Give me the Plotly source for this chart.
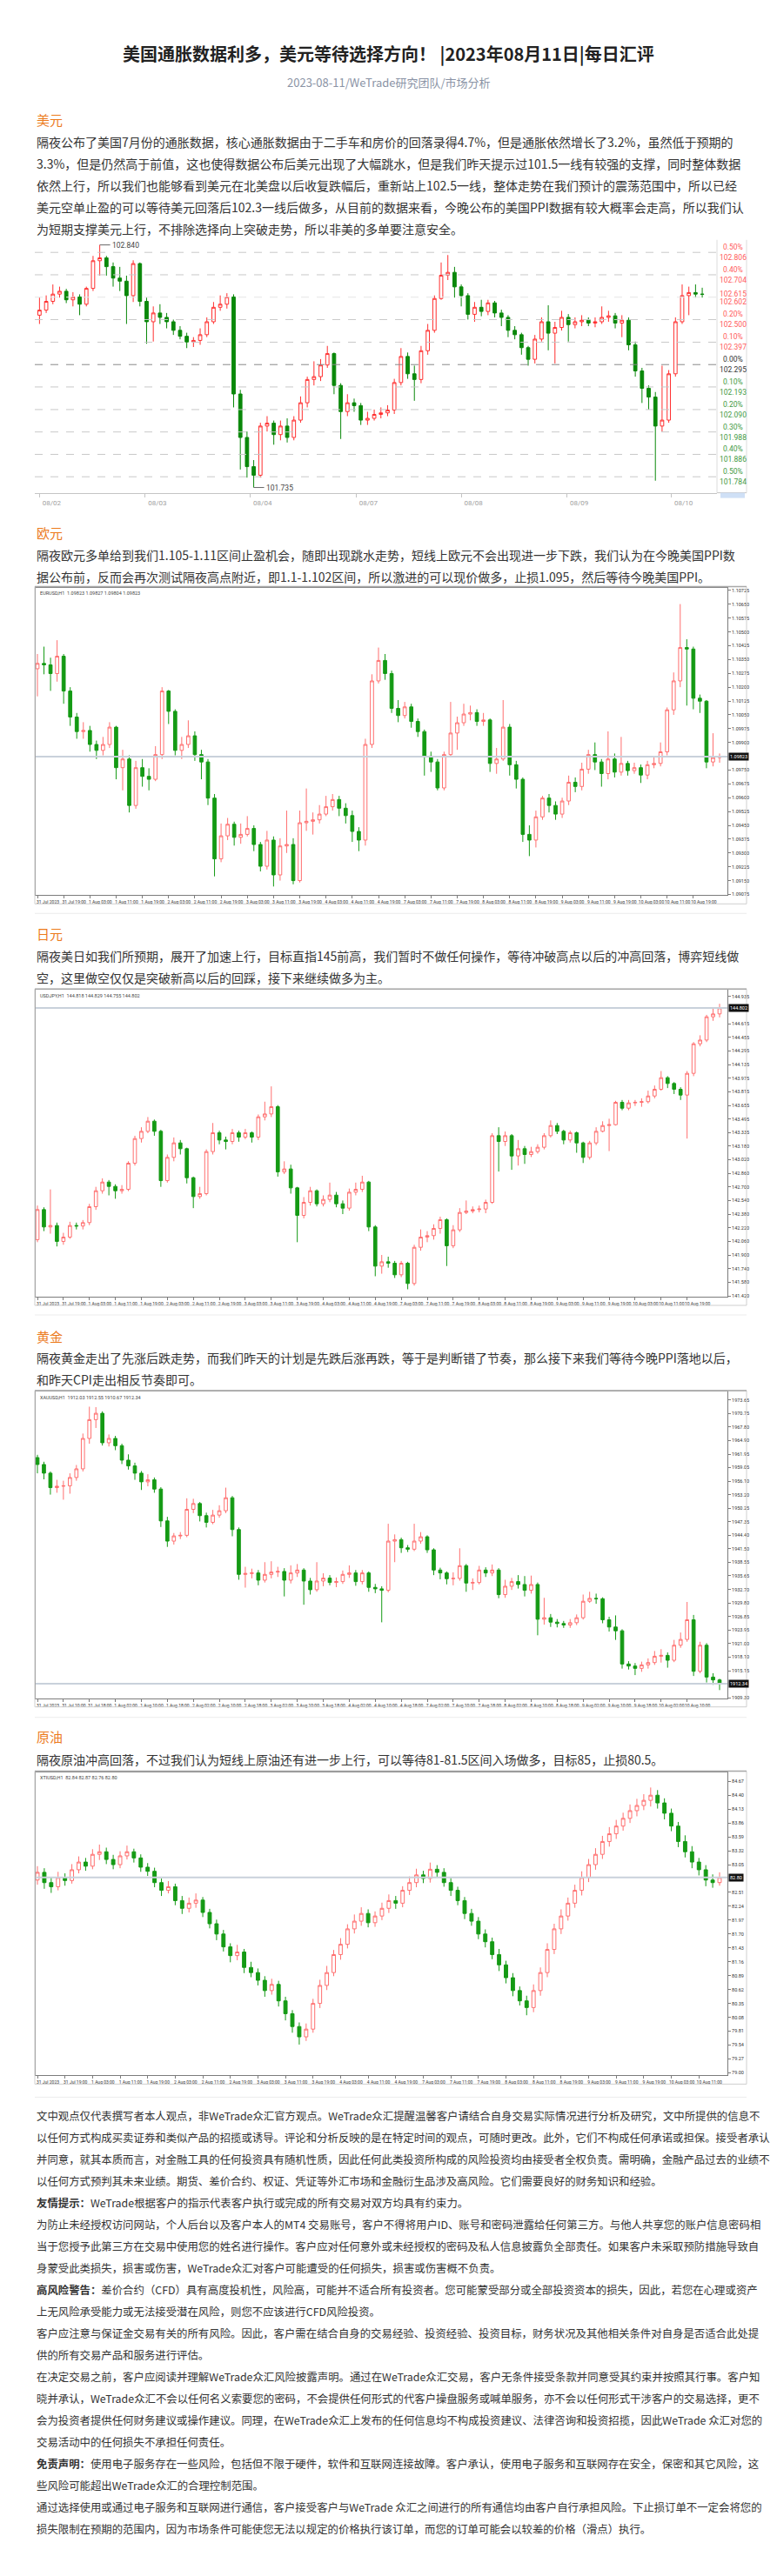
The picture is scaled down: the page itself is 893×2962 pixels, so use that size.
import plotly.graph_objects as go

W, H = 893, 2962
CJK = "Noto Sans CJK SC"
NUM = "Roboto"

# ------------------------------------------------------------------ text
TITLE = "美国通胀数据利多，美元等待选择方向！ |2023年08月11日|每日汇评"
SUBTITLE = "2023-08-11/WeTrade研究团队/市场分析"

USD_HEAD = "美元"
USD_TEXT = [
    "隔夜公布了美国7月份的通胀数据，核心通胀数据由于二手车和房价的回落录得4.7%，但是通胀依然增长了3.2%，虽然低于预期的",
    "3.3%，但是仍然高于前值，这也使得数据公布后美元出现了大幅跳水，但是我们昨天提示过101.5一线有较强的支撑，同时整体数据",
    "依然上行，所以我们也能够看到美元在北美盘以后收复跌幅后，重新站上102.5一线，整体走势在我们预计的震荡范围中，所以已经",
    "美元空单止盈的可以等待美元回落后102.3一线后做多，从目前的数据来看，今晚公布的美国PPI数据有较大概率会走高，所以我们认",
    "为短期支撑美元上行，不排除选择向上突破走势，所以非美的多单要注意安全。",
]
EUR_HEAD = "欧元"
EUR_TEXT = [
    "隔夜欧元多单给到我们1.105-1.11区间止盈机会，随即出现跳水走势，短线上欧元不会出现进一步下跌，我们认为在今晚美国PPI数",
    "据公布前，反而会再次测试隔夜高点附近，即1.1-1.102区间，所以激进的可以现价做多，止损1.095，然后等待今晚美国PPI。",
]
JPY_HEAD = "日元"
JPY_TEXT = [
    "隔夜美日如我们所预期，展开了加速上行，目标直指145前高，我们暂时不做任何操作，等待冲破高点以后的冲高回落，博弈短线做",
    "空，这里做空仅仅是突破新高以后的回踩，接下来继续做多为主。",
]
GOLD_HEAD = "黄金"
GOLD_TEXT = [
    "隔夜黄金走出了先涨后跌走势，而我们昨天的计划是先跌后涨再跌，等于是判断错了节奏，那么接下来我们等待今晚PPI落地以后，",
    "和昨天CPI走出相反节奏即可。",
]
OIL_HEAD = "原油"
OIL_TEXT = [
    "隔夜原油冲高回落，不过我们认为短线上原油还有进一步上行，可以等待81-81.5区间入场做多，目标85，止损80.5。",
]
DISCLAIMER = [
    "文中观点仅代表撰写者本人观点，非WeTrade众汇官方观点。WeTrade众汇提醒温馨客户请结合自身交易实际情况进行分析及研究，文中所提供的信息不",
    "以任何方式构成买卖证券和类似产品的招揽或诱导。评论和分析反映的是在特定时间的观点，可随时更改。此外，它们不构成任何承诺或担保。接受者承认",
    "并同意，就其本质而言，对金融工具的任何投资具有随机性质，因此任何此类投资所构成的风险投资均由接受者全权负责。需明确，金融产品过去的业绩不",
    "以任何方式预判其未来业绩。期货、差价合约、权证、凭证等外汇市场和金融衍生品涉及高风险。它们需要良好的财务知识和经验。",
    "<b>友情提示：</b>WeTrade根据客户的指示代表客户执行或完成的所有交易对双方均具有约束力。",
    "为防止未经授权访问网站，个人后台以及客户本人的MT4 交易账号，客户不得将用户ID、账号和密码泄露给任何第三方。与他人共享您的账户信息密码相",
    "当于您授予此第三方在交易中使用您的姓名进行操作。客户应对任何意外或未经授权的密码及私人信息披露负全部责任。如果客户未采取预防措施导致自",
    "身蒙受此类损失，损害或伤害，WeTrade众汇对客户可能遭受的任何损失，损害或伤害概不负责。",
    "<b>高风险警告：</b>差价合约（CFD）具有高度投机性，风险高，可能并不适合所有投资者。您可能蒙受部分或全部投资资本的损失，因此，若您在心理或资产",
    "上无风险承受能力或无法接受潜在风险，则您不应该进行CFD风险投资。",
    "客户应注意与保证金交易有关的所有风险。因此，客户需在结合自身的交易经验、投资经验、投资目标，财务状况及其他相关条件对自身是否适合此处提",
    "供的所有交易产品和服务进行评估。",
    "在决定交易之前，客户应阅读并理解WeTrade众汇风险披露声明。通过在WeTrade众汇交易，客户无条件接受条款并同意受其约束并按照其行事。客户知",
    "晓并承认，WeTrade众汇不会以任何名义索要您的密码，不会提供任何形式的代客户操盘服务或喊单服务，亦不会以任何形式干涉客户的交易选择，更不",
    "会为投资者提供任何财务建议或操作建议。同理，在WeTrade众汇上发布的任何信息均不构成投资建议、法律咨询和投资招揽，因此WeTrade 众汇对您的",
    "交易活动中的任何损失不承担任何责任。",
    "<b>免责声明：</b>使用电子服务存在一些风险，包括但不限于硬件，软件和互联网连接故障。客户承认，使用电子服务和互联网存在安全，保密和其它风险，这",
    "些风险可能超出WeTrade众汇的合理控制范围。",
    "通过选择使用或通过电子服务和互联网进行通信，客户接受客户与WeTrade 众汇之间进行的所有通信均由客户自行承担风险。下止损订单不一定会将您的",
    "损失限制在预期的范围内，因为市场条件可能使您无法以规定的价格执行该订单，而您的订单可能会以较差的价格（滑点）执行。",
]

# ------------------------------------------------------------------ USD index chart
USD_open = [102.520, 102.543, 102.583, 102.616, 102.629, 102.590, 102.603, 102.570, 102.642, 102.768,
            102.781, 102.741, 102.689, 102.675, 102.609, 102.755, 102.583, 102.490, 102.530, 102.510,
            102.490, 102.451, 102.424, 102.398, 102.405, 102.431, 102.490, 102.556, 102.570, 102.603,
            102.161, 101.963, 101.830, 101.791, 102.015, 102.028, 101.976, 102.015, 101.963, 102.042,
            102.121, 102.227, 102.240, 102.293, 102.345, 102.200, 102.081, 102.121, 102.108, 102.042,
            102.050, 102.068, 102.075, 102.088, 102.213, 102.332, 102.253, 102.227, 102.358, 102.451,
            102.596, 102.702, 102.715, 102.649, 102.609, 102.524, 102.556, 102.537, 102.576, 102.530,
            102.510, 102.451, 102.431, 102.372, 102.319, 102.411, 102.490, 102.438, 102.464, 102.510,
            102.477, 102.490, 102.497, 102.484, 102.490, 102.510, 102.517, 102.484, 102.497, 102.385,
            102.266, 102.187, 102.147, 102.015, 102.042, 102.253, 102.490, 102.609, 102.623, 102.616]
USD_high = [102.600, 102.610, 102.660, 102.650, 102.640, 102.625, 102.615, 102.650, 102.790, 102.840,
            102.790, 102.760, 102.740, 102.700, 102.770, 102.760, 102.600, 102.560, 102.570, 102.530,
            102.500, 102.470, 102.440, 102.420, 102.460, 102.510, 102.580, 102.610, 102.620, 102.615,
            102.180, 101.990, 101.860, 102.030, 102.060, 102.040, 102.040, 102.050, 102.060, 102.150,
            102.240, 102.310, 102.320, 102.380, 102.350, 102.210, 102.160, 102.140, 102.120, 102.080,
            102.090, 102.100, 102.110, 102.230, 102.370, 102.350, 102.290, 102.380, 102.480, 102.610,
            102.760, 102.794, 102.740, 102.660, 102.620, 102.580, 102.590, 102.590, 102.585, 102.545,
            102.520, 102.470, 102.440, 102.380, 102.430, 102.510, 102.565, 102.490, 102.540, 102.525,
            102.510, 102.520, 102.510, 102.510, 102.560, 102.540, 102.530, 102.520, 102.510, 102.400,
            102.280, 102.200, 102.170, 102.290, 102.270, 102.510, 102.660, 102.650, 102.660, 102.645]
USD_low = [102.480, 102.530, 102.570, 102.600, 102.575, 102.560, 102.520, 102.560, 102.630, 102.700,
           102.700, 102.650, 102.630, 102.480, 102.580, 102.560, 102.390, 102.400, 102.480, 102.460,
           102.430, 102.410, 102.370, 102.375, 102.385, 102.420, 102.480, 102.540, 102.550, 102.100,
           101.817, 101.780, 101.735, 101.780, 101.990, 101.930, 101.950, 101.940, 101.950, 102.030,
           102.100, 102.200, 102.220, 102.280, 102.160, 101.956, 102.060, 102.080, 102.020, 102.020,
           102.040, 102.050, 102.060, 102.070, 102.200, 102.230, 102.130, 102.210, 102.340, 102.440,
           102.590, 102.680, 102.600, 102.560, 102.500, 102.490, 102.515, 102.520, 102.510, 102.470,
           102.420, 102.410, 102.340, 102.290, 102.300, 102.400, 102.360, 102.300, 102.450, 102.400,
           102.460, 102.470, 102.470, 102.465, 102.480, 102.490, 102.460, 102.420, 102.360, 102.240,
           102.120, 102.090, 101.766, 101.990, 102.030, 102.240, 102.480, 102.520, 102.600, 102.600]
USD_close = [102.543, 102.583, 102.616, 102.629, 102.590, 102.603, 102.570, 102.642, 102.768, 102.781,
             102.741, 102.689, 102.675, 102.609, 102.755, 102.583, 102.490, 102.530, 102.510, 102.490,
             102.451, 102.424, 102.398, 102.405, 102.431, 102.490, 102.556, 102.570, 102.603, 102.161,
             101.963, 101.830, 101.791, 102.015, 102.028, 101.976, 102.015, 101.963, 102.042, 102.121,
             102.227, 102.240, 102.293, 102.345, 102.200, 102.081, 102.121, 102.108, 102.042, 102.050,
             102.068, 102.075, 102.088, 102.213, 102.332, 102.253, 102.227, 102.358, 102.451, 102.596,
             102.702, 102.715, 102.649, 102.609, 102.524, 102.556, 102.537, 102.576, 102.530, 102.510,
             102.451, 102.431, 102.372, 102.319, 102.411, 102.490, 102.438, 102.464, 102.510, 102.477,
             102.490, 102.497, 102.484, 102.490, 102.510, 102.517, 102.484, 102.497, 102.385, 102.266,
             102.187, 102.147, 102.015, 102.042, 102.253, 102.490, 102.609, 102.623, 102.616, 102.615]
USD_levels = [102.806, 102.704, 102.500, 102.397, 102.295, 102.193, 102.090, 101.988, 101.886, 101.784]
USD_level_pct = ["0.50%", "0.40%", "0.20%", "0.10%", "0.00%", "0.10%", "0.20%", "0.30%", "0.40%", "0.50%"]
USD_base = 102.295
USD_plus30 = 102.602
USD_last = 102.615
USD_max_idx, USD_max = 9, 102.840
USD_min_idx, USD_min = 32, 101.735
USD_tick_pos = [0, 15.8, 31.5, 47.3, 63, 78.8, 94.4]
USD_tick_text = ["08/02", "08/03", "08/04", "08/07", "08/08", "08/09", "08/10"]

# ------------------------------------------------------------------ EURUSD H1
EUR_open = [1.10300, 1.10329, 1.10321, 1.10274, 1.10368, 1.10179, 1.10038, 1.09959, 1.09965, 1.09889,
            1.09857, 1.09889, 1.09983, 1.09763, 1.09810, 1.09558, 1.09763, 1.09716, 1.09700, 1.09834,
            1.10179, 1.10069, 1.09857, 1.09889, 1.09936, 1.09834, 1.09794, 1.09598, 1.09268, 1.09393,
            1.09456, 1.09385, 1.09401, 1.09433, 1.09346, 1.09228, 1.09370, 1.09181, 1.09338, 1.09346,
            1.09150, 1.09464, 1.09472, 1.09480, 1.09511, 1.09551, 1.09590, 1.09543, 1.09503, 1.09417,
            1.09370, 1.09889, 1.10234, 1.10345, 1.10274, 1.10085, 1.10046, 1.10093, 1.10014, 1.09959,
            1.09826, 1.09794, 1.09653, 1.09834, 1.09951, 1.10007, 1.10054, 1.10062, 1.10014, 1.10022,
            1.09786, 1.09810, 1.09983, 1.09779, 1.09700, 1.09401, 1.09370, 1.09496, 1.09598, 1.09558,
            1.09511, 1.09582, 1.09684, 1.09661, 1.09755, 1.09834, 1.09794, 1.09731, 1.09810, 1.09739,
            1.09786, 1.09747, 1.09763, 1.09723, 1.09779, 1.09786, 1.09849, 1.10077, 1.10234, 1.10415,
            1.10407, 1.10140, 1.10124, 1.09794, 1.09818]
EUR_high = [1.10380, 1.10420, 1.10360, 1.10455, 1.10380, 1.10200, 1.10060, 1.10010, 1.09990, 1.09910,
            1.09930, 1.10010, 1.09990, 1.09860, 1.09830, 1.09800, 1.09810, 1.09760, 1.09880, 1.10200,
            1.10185, 1.10080, 1.09930, 1.10020, 1.09960, 1.09860, 1.09810, 1.09620, 1.09460, 1.09490,
            1.09470, 1.09460, 1.09500, 1.09450, 1.09360, 1.09420, 1.09390, 1.09380, 1.09530, 1.09380,
            1.09530, 1.09650, 1.09520, 1.09560, 1.09610, 1.09620, 1.09610, 1.09570, 1.09530, 1.09440,
            1.09920, 1.10270, 1.10415, 1.10380, 1.10290, 1.10130, 1.10120, 1.10110, 1.10030, 1.09970,
            1.09850, 1.09810, 1.09850, 1.10120, 1.10040, 1.10110, 1.10100, 1.10080, 1.10060, 1.10030,
            1.09870, 1.10130, 1.10000, 1.09800, 1.09710, 1.09450, 1.09530, 1.09610, 1.09620, 1.09580,
            1.09600, 1.09720, 1.09710, 1.09790, 1.09860, 1.09900, 1.09810, 1.09960, 1.09840, 1.09930,
            1.09800, 1.09790, 1.09780, 1.09800, 1.09820, 1.09900, 1.10090, 1.10280, 1.10651, 1.10460,
            1.10420, 1.10160, 1.10130, 1.09950, 1.09840]
EUR_low = [1.10150, 1.10270, 1.10180, 1.10230, 1.10110, 1.09990, 1.09920, 1.09920, 1.09850, 1.09810,
           1.09830, 1.09870, 1.09700, 1.09640, 1.09520, 1.09540, 1.09660, 1.09640, 1.09690, 1.09810,
           1.10000, 1.09830, 1.09810, 1.09870, 1.09800, 1.09700, 1.09560, 1.09173, 1.09250, 1.09370,
           1.09340, 1.09350, 1.09390, 1.09310, 1.09200, 1.09210, 1.09118, 1.09150, 1.09300, 1.09130,
           1.09140, 1.09420, 1.09400, 1.09460, 1.09500, 1.09530, 1.09500, 1.09460, 1.09360, 1.09310,
           1.09340, 1.09870, 1.10220, 1.10240, 1.10060, 1.10010, 1.10030, 1.09980, 1.09930, 1.09720,
           1.09740, 1.09640, 1.09640, 1.09820, 1.09860, 1.09990, 1.10020, 1.09990, 1.09990, 1.09740,
           1.09730, 1.09800, 1.09720, 1.09650, 1.09360, 1.09283, 1.09330, 1.09480, 1.09520, 1.09480,
           1.09490, 1.09560, 1.09630, 1.09640, 1.09730, 1.09750, 1.09660, 1.09700, 1.09710, 1.09720,
           1.09720, 1.09730, 1.09680, 1.09700, 1.09760, 1.09770, 1.09830, 1.10050, 1.10200, 1.10100,
           1.10080, 1.10060, 1.09760, 1.09770, 1.09790]
EUR_close = [1.10329, 1.10321, 1.10274, 1.10368, 1.10179, 1.10038, 1.09959, 1.09965, 1.09889, 1.09857,
             1.09889, 1.09983, 1.09763, 1.09810, 1.09558, 1.09763, 1.09716, 1.09700, 1.09834, 1.10179,
             1.10069, 1.09857, 1.09889, 1.09936, 1.09834, 1.09794, 1.09598, 1.09268, 1.09393, 1.09456,
             1.09385, 1.09401, 1.09433, 1.09346, 1.09228, 1.09370, 1.09181, 1.09338, 1.09346, 1.09150,
             1.09464, 1.09472, 1.09480, 1.09511, 1.09551, 1.09590, 1.09543, 1.09503, 1.09417, 1.09370,
             1.09889, 1.10234, 1.10345, 1.10274, 1.10085, 1.10046, 1.10093, 1.10014, 1.09959, 1.09826,
             1.09794, 1.09653, 1.09834, 1.09951, 1.10007, 1.10054, 1.10062, 1.10014, 1.10022, 1.09786,
             1.09810, 1.09983, 1.09779, 1.09700, 1.09401, 1.09370, 1.09496, 1.09598, 1.09558, 1.09511,
             1.09582, 1.09684, 1.09661, 1.09755, 1.09834, 1.09794, 1.09731, 1.09810, 1.09739, 1.09786,
             1.09747, 1.09763, 1.09723, 1.09779, 1.09786, 1.09849, 1.10077, 1.10234, 1.10415, 1.10407,
             1.10140, 1.10124, 1.09794, 1.09818, 1.09823]
EUR_ticks = [1.09075, 1.09150, 1.09225, 1.09300, 1.09375, 1.09450, 1.09525, 1.09600, 1.09675, 1.09750,
             1.09900, 1.09975, 1.10050, 1.10125, 1.10200, 1.10275, 1.10350, 1.10425, 1.10500,
             1.10575, 1.10650, 1.10725]
EUR_range = [1.09071, 1.10741]
EUR_last = 1.09823
EUR_info = "EURUSD,H1  1.09823 1.09827 1.09804 1.09823"

# ------------------------------------------------------------------ USDJPY H1
JPY_open = [142.080, 142.433, 142.229, 142.246, 142.059, 142.110, 142.246, 142.240, 142.280, 142.467,
            142.654, 142.756, 142.705, 142.654, 142.671, 142.978, 143.267, 143.352, 143.471, 143.352,
            142.773, 143.046, 143.216, 143.148, 142.807, 142.586, 142.620, 143.114, 143.335, 143.250,
            143.233, 143.335, 143.284, 143.335, 143.284, 143.522, 143.556, 143.641, 142.876, 142.910,
            142.688, 142.365, 142.518, 142.654, 142.501, 142.552, 142.603, 142.501, 142.450, 142.637,
            142.671, 142.756, 142.229, 141.769, 141.820, 141.803, 141.667, 141.803, 141.565, 141.990,
            142.110, 142.127, 142.212, 142.314, 142.008, 142.195, 142.399, 142.416, 142.433, 142.440,
            142.518, 143.301, 143.233, 143.301, 143.063, 143.148, 143.080, 143.114, 143.165, 143.301,
            143.420, 143.352, 143.250, 143.335, 143.216, 143.046, 143.216, 143.352, 143.420, 143.430,
            143.693, 143.624, 143.686, 143.693, 143.700, 143.767, 143.846, 143.982, 143.914, 143.846,
            143.778, 144.033, 144.380, 144.424, 144.697, 144.731]
JPY_high = [142.480, 142.460, 142.670, 142.280, 142.160, 142.290, 142.280, 142.310, 142.500, 142.700,
            142.800, 142.780, 142.730, 142.720, 143.000, 143.300, 143.400, 143.520, 143.490, 143.370,
            143.080, 143.280, 143.250, 143.160, 142.820, 142.700, 143.140, 143.450, 143.360, 143.290,
            143.380, 143.360, 143.380, 143.350, 143.550, 143.700, 143.880, 143.660, 143.000, 142.960,
            142.700, 142.580, 142.700, 142.670, 142.600, 142.750, 142.640, 142.540, 142.680, 142.750,
            142.830, 142.770, 142.250, 141.900, 141.880, 141.830, 141.830, 141.820, 142.020, 142.200,
            142.180, 142.260, 142.350, 142.330, 142.250, 142.450, 142.540, 142.470, 142.480, 142.550,
            143.330, 143.400, 143.350, 143.320, 143.250, 143.180, 143.170, 143.200, 143.330, 143.480,
            143.450, 143.370, 143.360, 143.350, 143.230, 143.240, 143.400, 143.470, 143.500, 143.710,
            143.720, 143.720, 143.720, 143.740, 143.830, 143.890, 144.060, 144.000, 143.930, 143.870,
            144.060, 144.400, 144.480, 144.720, 144.800, 144.850]
JPY_low = [142.050, 142.180, 142.150, 142.000, 142.020, 142.090, 142.200, 142.200, 142.250, 142.430,
           142.620, 142.600, 142.560, 142.620, 142.650, 142.950, 143.220, 143.330, 143.300, 142.700,
           142.750, 143.000, 143.080, 142.740, 142.450, 142.560, 142.600, 143.080, 143.200, 143.140,
           143.200, 143.230, 143.260, 143.220, 143.250, 143.480, 143.520, 142.820, 142.850, 142.620,
           142.050, 142.330, 142.480, 142.470, 142.470, 142.520, 142.460, 142.380, 142.420, 142.600,
           142.640, 142.180, 141.650, 141.680, 141.750, 141.630, 141.640, 141.497, 141.540, 141.950,
           142.050, 142.080, 142.150, 141.770, 141.980, 142.170, 142.380, 142.390, 142.400, 142.390,
           142.500, 142.880, 143.180, 142.900, 142.950, 142.970, 143.050, 143.090, 143.140, 143.280,
           143.320, 143.200, 143.220, 143.100, 142.980, 143.020, 143.190, 143.340, 143.120, 143.420,
           143.600, 143.600, 143.650, 143.640, 143.680, 143.740, 143.830, 143.860, 143.790, 143.720,
           143.267, 144.000, 144.350, 144.400, 144.650, 144.690]
JPY_close = [142.433, 142.229, 142.246, 142.059, 142.110, 142.246, 142.240, 142.280, 142.467, 142.654,
             142.756, 142.705, 142.654, 142.671, 142.978, 143.267, 143.352, 143.471, 143.352, 142.773,
             143.046, 143.216, 143.148, 142.807, 142.586, 142.620, 143.114, 143.335, 143.250, 143.233,
             143.335, 143.284, 143.335, 143.284, 143.522, 143.556, 143.641, 142.876, 142.910, 142.688,
             142.365, 142.518, 142.654, 142.501, 142.552, 142.603, 142.501, 142.450, 142.637, 142.671,
             142.756, 142.229, 141.769, 141.820, 141.803, 141.667, 141.803, 141.565, 141.990, 142.110,
             142.127, 142.212, 142.314, 142.008, 142.195, 142.399, 142.416, 142.433, 142.440, 142.518,
             143.301, 143.233, 143.301, 143.063, 143.148, 143.080, 143.114, 143.165, 143.301, 143.420,
             143.352, 143.250, 143.335, 143.216, 143.046, 143.216, 143.352, 143.420, 143.430, 143.693,
             143.624, 143.686, 143.693, 143.700, 143.767, 143.846, 143.982, 143.914, 143.846, 143.778,
             144.033, 144.380, 144.424, 144.697, 144.731, 144.802]
JPY_ticks = [141.420, 141.580, 141.740, 141.900, 142.060, 142.220, 142.380, 142.540, 142.700, 142.860,
             143.020, 143.180, 143.335, 143.495, 143.655, 143.815, 143.975, 144.135, 144.295, 144.455,
             144.615, 144.935]
JPY_range = [141.41, 145.013]
JPY_last = 144.802
JPY_info = "USDJPY,H1  144.818 144.829 144.755 144.802"

# ------------------------------------------------------------------ XAUUSD H1
GOLD_open = [1961.20, 1959.71, 1957.84, 1954.71, 1955.02, 1955.10, 1956.90, 1958.77, 1965.34, 1969.40,
             1970.77, 1964.40, 1965.34, 1963.77, 1960.65, 1959.40, 1957.84, 1955.96, 1956.40, 1954.40,
             1947.52, 1943.15, 1944.27, 1944.40, 1950.02, 1951.27, 1948.65, 1947.21, 1948.77, 1949.71,
             1952.52, 1945.65, 1935.96, 1936.15, 1936.27, 1934.71, 1935.96, 1936.46, 1936.59, 1934.71,
             1936.27, 1936.90, 1934.52, 1932.65, 1934.52, 1935.15, 1934.21, 1934.40, 1935.96, 1936.27,
             1934.40, 1936.27, 1933.15, 1932.84, 1932.52, 1943.15, 1943.46, 1941.71, 1941.40, 1943.15,
             1944.09, 1941.27, 1936.90, 1936.27, 1935.02, 1935.10, 1937.84, 1934.09, 1934.20, 1936.90,
             1936.27, 1936.90, 1931.59, 1933.40, 1934.40, 1933.77, 1932.52, 1933.77, 1926.27, 1926.59,
             1925.65, 1925.34, 1925.02, 1925.52, 1926.59, 1930.15, 1930.77, 1930.70, 1926.15, 1924.59,
             1923.77, 1916.59, 1916.15, 1915.65, 1916.40, 1916.90, 1918.27, 1918.46, 1917.40, 1920.65,
             1921.90, 1926.15, 1915.02, 1920.65, 1913.77, 1913.15]
GOLD_high = [1961.80, 1960.30, 1958.20, 1956.40, 1956.20, 1957.80, 1959.60, 1966.40, 1972.20, 1972.10,
             1971.20, 1966.20, 1965.90, 1964.20, 1961.90, 1960.10, 1958.30, 1957.60, 1956.90, 1954.80,
             1948.40, 1944.90, 1945.10, 1952.40, 1952.30, 1951.60, 1949.30, 1949.90, 1950.90, 1954.70,
             1952.90, 1946.10, 1937.60, 1937.20, 1936.90, 1938.60, 1938.80, 1937.60, 1937.30, 1937.90,
             1938.20, 1937.30, 1935.20, 1938.60, 1936.20, 1935.80, 1935.30, 1936.80, 1937.90, 1936.90,
             1936.90, 1936.60, 1933.90, 1933.40, 1946.90, 1944.60, 1943.90, 1942.30, 1946.90, 1945.10,
             1944.40, 1941.60, 1937.40, 1936.60, 1936.40, 1941.60, 1938.20, 1935.10, 1937.80, 1937.50,
             1938.10, 1937.30, 1934.80, 1935.20, 1935.80, 1935.60, 1935.70, 1934.20, 1930.90, 1927.40,
             1926.30, 1925.90, 1926.30, 1927.30, 1931.60, 1932.20, 1931.80, 1931.00, 1926.80, 1927.10,
             1924.10, 1917.20, 1916.80, 1917.10, 1917.80, 1919.40, 1919.80, 1919.10, 1921.80, 1923.40,
             1930.00, 1927.20, 1921.40, 1921.10, 1914.60, 1913.40]
GOLD_low = [1957.80, 1956.50, 1953.20, 1953.60, 1952.10, 1953.40, 1956.20, 1958.20, 1964.20, 1967.60,
            1963.80, 1963.60, 1962.80, 1959.80, 1958.60, 1956.40, 1954.20, 1955.00, 1953.60, 1946.20,
            1941.90, 1942.40, 1943.60, 1944.00, 1949.20, 1947.40, 1946.10, 1946.80, 1948.20, 1949.20,
            1944.20, 1934.80, 1933.10, 1935.10, 1933.60, 1934.20, 1935.10, 1935.40, 1931.20, 1934.00,
            1935.40, 1929.40, 1931.60, 1932.20, 1933.40, 1933.60, 1933.20, 1933.90, 1935.20, 1933.50,
            1933.80, 1932.20, 1931.90, 1925.60, 1932.10, 1938.60, 1940.60, 1940.80, 1941.00, 1942.60,
            1940.60, 1935.80, 1934.90, 1933.80, 1933.60, 1934.60, 1932.20, 1932.60, 1933.80, 1935.40,
            1935.60, 1930.80, 1930.90, 1932.60, 1932.90, 1931.20, 1931.80, 1922.80, 1925.10, 1924.60,
            1924.50, 1924.40, 1924.40, 1925.00, 1926.20, 1929.80, 1929.60, 1925.40, 1923.60, 1921.80,
            1915.60, 1915.40, 1914.20, 1914.90, 1915.60, 1916.40, 1916.90, 1915.80, 1917.00, 1920.10,
            1921.40, 1914.00, 1914.60, 1912.60, 1912.10, 1910.96]
GOLD_close = [1959.71, 1957.84, 1954.71, 1955.02, 1955.10, 1956.90, 1958.77, 1965.34, 1969.40, 1970.77,
              1964.40, 1965.34, 1963.77, 1960.65, 1959.40, 1957.84, 1955.96, 1956.40, 1954.40, 1947.52,
              1943.15, 1944.27, 1944.40, 1950.02, 1951.27, 1948.65, 1947.21, 1948.77, 1949.71, 1952.52,
              1945.65, 1935.96, 1936.15, 1936.27, 1934.71, 1935.96, 1936.46, 1936.59, 1934.71, 1936.27,
              1936.90, 1934.52, 1932.65, 1934.52, 1935.15, 1934.21, 1934.40, 1935.96, 1936.27, 1934.40,
              1936.27, 1933.15, 1932.84, 1932.52, 1943.15, 1943.46, 1941.71, 1941.40, 1943.15, 1944.09,
              1941.27, 1936.90, 1936.27, 1935.02, 1935.10, 1937.84, 1934.09, 1934.20, 1936.90, 1936.27,
              1936.90, 1931.59, 1933.40, 1934.40, 1933.77, 1932.52, 1933.77, 1926.27, 1926.59, 1925.65,
              1925.34, 1925.02, 1925.52, 1926.59, 1930.15, 1930.77, 1930.70, 1926.15, 1924.59, 1923.77,
              1916.59, 1916.15, 1915.65, 1916.40, 1916.90, 1918.27, 1918.46, 1917.40, 1920.65, 1921.90,
              1926.15, 1915.02, 1920.65, 1913.77, 1913.15, 1912.34]
GOLD_ticks = [1909.30, 1915.15, 1918.10, 1921.00, 1923.95, 1926.85, 1929.80, 1932.70, 1935.65, 1938.55,
              1941.50, 1944.40, 1947.35, 1950.25, 1953.20, 1956.10, 1959.05, 1961.95, 1964.90, 1967.80,
              1970.75, 1973.65]
GOLD_range = [1909.2, 1975.5]
GOLD_last = 1912.34
GOLD_info = "XAUUSD,H1  1912.03 1912.55 1910.67 1912.34"

# ------------------------------------------------------------------ Crude oil H1
OIL_open = [82.75, 82.90, 82.70, 82.62, 82.80, 82.74, 82.95, 83.10, 83.02, 83.25,
            83.30, 83.15, 83.05, 83.22, 83.30, 83.18, 83.00, 82.92, 82.70, 82.55,
            82.62, 82.35, 82.20, 82.30, 82.36, 82.12, 81.90, 81.70, 81.45, 81.28,
            81.35, 81.05, 80.95, 80.80, 80.60, 80.72, 80.40, 80.15, 79.90, 79.70,
            79.85, 80.35, 80.70, 80.95, 81.30, 81.50, 81.80, 81.95, 82.10, 81.92,
            82.05, 82.20, 82.35, 82.30, 82.55, 82.70, 82.85, 82.78, 82.96, 82.90,
            82.70, 82.55, 82.35, 82.10, 81.95, 81.70, 81.55, 81.30, 81.10, 80.85,
            80.60, 80.40, 80.27, 80.60, 80.95, 81.40, 81.80, 82.05, 82.30, 82.55,
            82.80, 83.05, 83.25, 83.50, 83.65, 83.80, 83.95, 84.10, 84.20, 84.30,
            84.40, 84.25, 84.05, 83.80, 83.50, 83.30, 83.10, 82.95, 82.75, 82.70]
OIL_high = [83.02, 82.98, 82.81, 82.91, 82.88, 83.06, 83.21, 83.18, 83.35, 83.44,
            83.38, 83.24, 83.31, 83.42, 83.36, 83.25, 83.08, 82.99, 82.78, 82.73,
            82.68, 82.44, 82.41, 82.49, 82.42, 82.19, 81.98, 81.78, 81.52, 81.49,
            81.41, 81.16, 81.03, 80.88, 80.83, 80.79, 80.48, 80.22, 79.98, 79.96,
            80.44, 80.81, 81.08, 81.39, 81.62, 81.89, 82.08, 82.22, 82.18, 82.14,
            82.31, 82.47, 82.44, 82.63, 82.82, 82.97, 82.93, 83.09, 83.04, 82.98,
            82.79, 82.62, 82.42, 82.19, 82.03, 81.79, 81.63, 81.41, 81.18, 80.94,
            80.68, 80.50, 80.72, 81.05, 81.52, 81.90, 82.18, 82.41, 82.66, 82.92,
            83.16, 83.37, 83.61, 83.78, 83.92, 84.06, 84.22, 84.33, 84.42, 84.55,
            84.50, 84.34, 84.14, 83.88, 83.62, 83.41, 83.18, 83.04, 82.86, 82.90]
OIL_low = [82.66, 82.58, 82.50, 82.55, 82.64, 82.68, 82.88, 82.93, 82.96, 83.14,
           83.06, 82.96, 82.98, 83.15, 83.09, 82.91, 82.83, 82.61, 82.44, 82.49,
           82.26, 82.09, 82.12, 82.21, 82.03, 81.81, 81.58, 81.36, 81.15, 81.19,
           80.94, 80.86, 80.70, 80.48, 80.52, 80.29, 80.02, 79.78, 79.55, 79.62,
           79.78, 80.26, 80.61, 80.88, 81.20, 81.42, 81.71, 81.86, 81.83, 81.84,
           81.97, 82.11, 82.19, 82.22, 82.46, 82.61, 82.69, 82.70, 82.81, 82.62,
           82.44, 82.26, 81.99, 81.86, 81.60, 81.44, 81.21, 80.98, 80.74, 80.49,
           80.31, 80.12, 80.18, 80.50, 80.86, 81.31, 81.70, 81.96, 82.21, 82.45,
           82.71, 82.95, 83.16, 83.40, 83.55, 83.71, 83.86, 83.99, 84.11, 84.18,
           84.14, 83.93, 83.70, 83.39, 83.19, 82.98, 82.84, 82.63, 82.60, 82.64]
OIL_close = [82.90, 82.70, 82.62, 82.80, 82.74, 82.95, 83.10, 83.02, 83.25, 83.30,
             83.15, 83.05, 83.22, 83.30, 83.18, 83.00, 82.92, 82.70, 82.55, 82.62,
             82.35, 82.20, 82.30, 82.36, 82.12, 81.90, 81.70, 81.45, 81.28, 81.35,
             81.05, 80.95, 80.80, 80.60, 80.72, 80.40, 80.15, 79.90, 79.70, 79.85,
             80.35, 80.70, 80.95, 81.30, 81.50, 81.80, 81.95, 82.10, 81.92, 82.05,
             82.20, 82.35, 82.30, 82.55, 82.70, 82.85, 82.78, 82.96, 82.90, 82.70,
             82.55, 82.35, 82.10, 81.95, 81.70, 81.55, 81.30, 81.10, 80.85, 80.60,
             80.40, 80.27, 80.60, 80.95, 81.40, 81.80, 82.05, 82.30, 82.55, 82.80,
             83.05, 83.25, 83.50, 83.65, 83.80, 83.95, 84.10, 84.20, 84.30, 84.40,
             84.25, 84.05, 83.80, 83.50, 83.30, 83.10, 82.95, 82.75, 82.70, 82.80]
OIL_ticks = [79.00, 79.27, 79.54, 79.81, 80.08, 80.35, 80.62, 80.89, 81.16, 81.43, 81.70,
             81.97, 82.24, 82.51, 83.05, 83.32, 83.59, 83.86, 84.13, 84.40, 84.67]
OIL_range = [78.95, 84.85]
OIL_last = 82.80
OIL_info = "XTIUSD,H1  82.84 82.87 82.76 82.80"

MT4_TIME = ["31 Jul 2023", "31 Jul 19:00", "1 Aug 03:00", "1 Aug 11:00", "1 Aug 19:00", "2 Aug 03:00",
            "2 Aug 11:00", "2 Aug 19:00", "3 Aug 03:00", "3 Aug 11:00", "3 Aug 19:00", "4 Aug 03:00",
            "4 Aug 11:00", "4 Aug 19:00", "7 Aug 03:00", "7 Aug 11:00", "7 Aug 19:00", "8 Aug 03:00",
            "8 Aug 11:00", "8 Aug 19:00", "9 Aug 03:00", "9 Aug 11:00", "9 Aug 19:00", "10 Aug 03:00",
            "10 Aug 11:00", "10 Aug 19:00"]
GOLD_TIME = ["31 Jul 2023", "31 Jul 10:00", "31 Jul 18:00", "1 Aug 02:00", "1 Aug 10:00", "1 Aug 18:00",
             "2 Aug 02:00", "2 Aug 10:00", "2 Aug 18:00", "3 Aug 02:00", "3 Aug 10:00", "3 Aug 18:00",
             "4 Aug 02:00", "4 Aug 10:00", "4 Aug 18:00", "7 Aug 02:00", "7 Aug 10:00", "7 Aug 18:00",
             "8 Aug 02:00", "8 Aug 10:00", "8 Aug 18:00", "9 Aug 02:00", "9 Aug 10:00", "9 Aug 18:00",
             "10 Aug 02:00", "10 Aug 10:00"]

# ------------------------------------------------------------------ styling / layout
BODY = "#333333"
ORANGE = "#ec7a1c"
UP1, DN1 = "#ff3030", "#0a880a"
UP, DN = "#ff6f6f", "#149a14"


def fx(p):
    return p / W


def fy(p):
    return 1 - p / H


fig = go.Figure()
ann = []
shapes = []


def txt(y, s, size=14, color=BODY, x=40, anchor="left", family=CJK):
    ann.append(dict(xref="paper", yref="paper", x=fx(x), y=fy(y), text=s, showarrow=False,
                    xanchor=anchor, yanchor="middle", font=dict(family=family, size=size, color=color)))


def para(head, lines, y_head, y_first, size=14):
    txt(y_head, head, size=15, color=ORANGE)
    for k, s in enumerate(lines):
        txt(y_first + 25 * k, s, size=size)


def hline(y, color="#ececec", width=1):
    shapes.append(dict(type="line", xref="paper", yref="paper", x0=fx(40), x1=fx(858), y0=fy(y), y1=fy(y),
                       line=dict(color=color, width=width)))


# header
txt(62, "<b>" + TITLE + "</b>", size=20, color="#222222", x=446.5, anchor="center")
txt(95, SUBTITLE, size=13, color="#8a93a5", x=446.5, anchor="center")

para(USD_HEAD, USD_TEXT, 138, 163)
para(EUR_HEAD, EUR_TEXT, 613, 638)
para(JPY_HEAD, JPY_TEXT, 1074, 1100)
para(GOLD_HEAD, GOLD_TEXT, 1538, 1562)
para(OIL_HEAD, OIL_TEXT, 1998, 2024)
for k, s in enumerate(DISCLAIMER):
    txt(2435 + 25 * k, s, size=12.4)

for y in (1051, 1513, 1976, 2413):
    hline(y)

layout = dict(width=W, height=H, margin=dict(l=0, r=0, t=0, b=0, pad=0), paper_bgcolor="white",
              plot_bgcolor="white", showlegend=False, font=dict(family=CJK, color=BODY), hovermode=False)

# ---------------- chart 1 : USD index
n1 = len(USD_close)
fig.add_trace(go.Candlestick(x=list(range(n1)), open=USD_open, high=USD_high, low=USD_low, close=USD_close,
                             xaxis="x", yaxis="y", whiskerwidth=0,
                             increasing=dict(line=dict(color=UP1, width=1), fillcolor="white"),
                             decreasing=dict(line=dict(color=DN1, width=1), fillcolor=DN1)))
layout["xaxis"] = dict(domain=[fx(40), fx(824)], range=[-0.7, n1 + 1.2], anchor="y", showgrid=False,
                       zeroline=False, showline=True, linecolor="#c4c4c4", linewidth=1, ticks="outside",
                       ticklen=4, tickcolor="#c4c4c4", tickvals=USD_tick_pos, ticktext=USD_tick_text,
                       tickangle=0, tickfont=dict(family=NUM, size=8, color="#a0a0a0"), ticklabelshift=14,
                       rangeslider=dict(visible=False))
layout["yaxis"] = dict(domain=[fy(567), fy(275)], range=[101.711, 102.867], anchor="x", visible=False)
shapes.append(dict(type="line", xref="paper", yref="paper", x0=fx(824), x1=fx(858), y0=fy(567), y1=fy(567),
                   line=dict(color="#c4c4c4", width=1)))
shapes.append(dict(type="line", xref="paper", yref="paper", x0=fx(824), x1=fx(824), y0=fy(567), y1=fy(276),
                   line=dict(color="#dcdcdc", width=1)))
shapes.append(dict(type="line", xref="paper", yref="paper", x0=fx(858), x1=fx(858), y0=fy(567), y1=fy(276),
                   line=dict(color="#dcdcdc", width=1)))
shapes.append(dict(type="rect", xref="paper", yref="paper", x0=fx(828), x1=fx(856), y0=fy(573), y1=fy(567),
                   fillcolor="#cfe0f6", line=dict(width=0)))
for lv, pct in zip(USD_levels, USD_level_pct):
    if lv > USD_base + 1e-9:
        col, lc = "#ff5a5a", "#c8c8c8"
    elif lv < USD_base - 1e-9:
        col, lc = "#3f9a3f", "#c8c8c8"
    else:
        col, lc = "#333333", "#8a8a8a"
    shapes.append(dict(type="line", xref="x domain", yref="y", x0=0, x1=1, y0=lv, y1=lv,
                       line=dict(color=lc, width=1, dash="dash")))
    ann.append(dict(xref="paper", yref="y", x=fx(842), y=lv, text=pct, showarrow=False, xanchor="center",
                    yanchor="bottom", yshift=-1, font=dict(family=NUM, size=8.5, color=col)))
    ann.append(dict(xref="paper", yref="y", x=fx(842), y=lv, text=f"{lv:.3f}", showarrow=False,
                    xanchor="center", yanchor="top", yshift=1, font=dict(family=NUM, size=8.5, color=col)))
shapes.append(dict(type="line", xref="x domain", yref="y", x0=0, x1=1, y0=USD_plus30, y1=USD_plus30,
                   line=dict(color="#e6e6e6", width=1, dash="dash")))
ann.append(dict(xref="paper", yref="y", x=fx(842), y=USD_last, text=f"{USD_last:.3f}", showarrow=False,
                xanchor="center", yanchor="middle", font=dict(family=NUM, size=8.5, color="#ff5a5a")))
ann.append(dict(xref="paper", yref="y", x=fx(842), y=USD_plus30, text=f"{USD_plus30:.3f}", showarrow=False,
                xanchor="center", yanchor="middle", yshift=-5, font=dict(family=NUM, size=8.5, color="#ff5a5a")))
ann.append(dict(xref="x", yref="y", x=USD_max_idx, y=USD_max, text=f"{USD_max:.3f}", showarrow=True,
                arrowhead=0, arrowwidth=1, arrowcolor="#666", ax=12, ay=0, xanchor="left",
                font=dict(family=NUM, size=8.5, color="#444")))
ann.append(dict(xref="x", yref="y", x=USD_min_idx, y=USD_min, text=f"{USD_min:.3f}", showarrow=True,
                arrowhead=0, arrowwidth=1, arrowcolor="#666", ax=12, ay=0, xanchor="left",
                font=dict(family=NUM, size=8.5, color="#444")))


# ---------------- MT4 style charts
def mt4(idx, o, h, l, c, ticks, yrange, last, info, times, top, bottom, decimals):
    n = len(c)
    xa, ya = f"x{idx}", f"y{idx}"
    fig.add_trace(go.Candlestick(x=list(range(n)), open=o, high=h, low=l, close=c, xaxis=xa, yaxis=ya,
                                 whiskerwidth=0,
                                 increasing=dict(line=dict(color=UP, width=1), fillcolor="white"),
                                 decreasing=dict(line=dict(color=DN, width=1), fillcolor=DN)))
    step = 784 / (n - 1)
    layout[f"xaxis{idx}"] = dict(domain=[fx(41), fx(836)], range=[-2 / step, n - 1 + 9 / step], anchor=ya,
                                 showgrid=False, zeroline=False, showline=True, mirror=True,
                                 linecolor="#7c7c7c", linewidth=1, ticks="outside", ticklen=3,
                                 tickcolor="#7c7c7c", tickvals=[4 * k for k in range(len(times)) if 4 * k < n],
                                 ticktext=times, tickangle=0, tickfont=dict(family=NUM, size=5, color="#333"),
                                 ticklabelshift=12, ticklabelstandoff=0, rangeslider=dict(visible=False))
    layout[f"yaxis{idx}"] = dict(domain=[fy(bottom), fy(top)], range=yrange, anchor=xa, side="right",
                                 showgrid=False, zeroline=False, showline=True, mirror=True,
                                 linecolor="#7c7c7c", linewidth=1, ticks="outside", ticklen=3,
                                 tickcolor="#7c7c7c", tickvals=ticks,
                                 ticktext=[f"{t:.{decimals}f}" for t in ticks],
                                 tickfont=dict(family=NUM, size=5.5, color="#333"))
    # outer window frame
    shapes.append(dict(type="rect", xref="paper", yref="paper", x0=fx(40), x1=fx(858), y0=fy(bottom + 10),
                       y1=fy(top - 1), line=dict(color="#cfcfcf", width=1)))
    shapes.append(dict(type="line", xref="paper", yref="paper", x0=fx(40), x1=fx(858), y0=fy(top - 1),
                       y1=fy(top - 1), line=dict(color="#a8a8a8", width=1.5)))
    # current price line + box
    shapes.append(dict(type="line", xref=f"{xa} domain", yref=ya, x0=0, x1=1, y0=last, y1=last,
                       line=dict(color="#c9d1db", width=2)))
    ann.append(dict(xref="paper", yref=ya, x=fx(837), y=last, text=f"{last:.{decimals}f}", showarrow=False,
                    xanchor="left", yanchor="middle", bgcolor="#111111", borderpad=1,
                    font=dict(family=NUM, size=5.5, color="white")))
    ann.append(dict(xref=f"{xa} domain", yref=f"{ya} domain", x=0.004, y=0.995, text=info, showarrow=False,
                    xanchor="left", yanchor="top", font=dict(family=NUM, size=5.5, color="#444")))


mt4(2, EUR_open, EUR_high, EUR_low, EUR_close, EUR_ticks, EUR_range, EUR_last, EUR_info, MT4_TIME, 676, 1030, 5)
mt4(3, JPY_open, JPY_high, JPY_low, JPY_close, JPY_ticks, JPY_range, JPY_last, JPY_info, MT4_TIME, 1139, 1492, 3)
mt4(4, GOLD_open, GOLD_high, GOLD_low, GOLD_close, GOLD_ticks, GOLD_range, GOLD_last, GOLD_info, GOLD_TIME,
    1601, 1954, 2)
mt4(5, OIL_open, OIL_high, OIL_low, OIL_close, OIL_ticks, OIL_range, OIL_last, OIL_info, MT4_TIME, 2039, 2388, 2)

layout["annotations"] = ann
layout["shapes"] = shapes
fig.update_layout(**layout)

fig.write_html("out.html", include_plotlyjs=True, full_html=True,
               config={"displayModeBar": False, "staticPlot": True},
               post_script="document.body.style.margin='0px';")
